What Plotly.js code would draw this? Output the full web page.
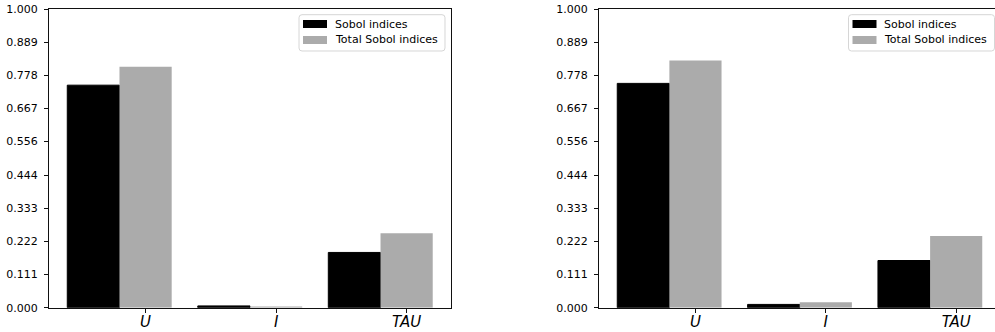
<!DOCTYPE html>
<html>
<head>
<meta charset="utf-8">
<script src="https://cdn.plot.ly/plotly-3.0.1.min.js"></script>
<style>
  html, body { margin: 0; padding: 0; overflow: hidden; background: #fff; }
  #chart { width: 1010px; height: 332px; }
</style>
</head>
<body>
<div id="chart"></div>
<script>
// Input parameters
const categories = ['U', 'I', 'TAU'];

// First-order and total Sobol indices, left panel
const sobolLeft = [0.745, 0.006, 0.185];
const totalLeft = [0.807, 0.004, 0.249];

// First-order and total Sobol indices, right panel
const sobolRight = [0.751, 0.011, 0.158];
const totalRight = [0.828, 0.018, 0.240];

const yTickLabels = ['0.000', '0.111', '0.222', '0.333', '0.444',
                     '0.556', '0.667', '0.778', '0.889', '1.000'];
const seriesNames = ['Sobol indices', 'Total Sobol indices'];

const W = 1010, H = 332;
const FONT = 'DejaVu Sans';
const BLACK = '#000000';
const GREY = '#ababab';

// Plot areas in pixels
const yTopPx = 9, yBotPx = 307.7;
const panels = [
  { left: 49, right: 451 },
  { left: 599, right: 1000.5 }
];
const yDomain = [(H - yBotPx) / H, (H - yTopPx) / H];

function xAxis(dom, anchor) {
  return {
    domain: [dom.left / W, dom.right / W],
    anchor: anchor,
    type: 'category',
    categoryarray: categories,
    categoryorder: 'array',
    range: [-0.74, 2.34],
    showgrid: false,
    zeroline: false,
    showline: true,
    mirror: true,
    linecolor: '#111',
    linewidth: 1,
    ticks: 'outside',
    ticklen: 4,
    tickwidth: 1,
    tickcolor: '#111',
    ticklabelstandoff: -4,
    tickfont: { family: FONT, size: 15, color: '#000', style: 'italic' },
    fixedrange: true
  };
}

function yAxis(anchor) {
  return {
    domain: yDomain,
    anchor: anchor,
    range: [0, 1],
    showgrid: false,
    zeroline: false,
    showline: true,
    mirror: true,
    linecolor: '#111',
    linewidth: 1,
    ticks: 'outside',
    ticklen: 4,
    tickwidth: 1,
    tickcolor: '#111',
    ticklabelstandoff: 4,
    tickvals: yTickLabels.map(Number),
    ticktext: yTickLabels,
    tickfont: { family: FONT, size: 11, color: '#000' },
    fixedrange: true
  };
}

function barPair(first, total, xa, ya) {
  return [
    {
      type: 'bar', name: seriesNames[0], x: categories, y: first,
      xaxis: xa, yaxis: ya, offset: -0.6, width: 0.4,
      marker: { color: BLACK, line: { color: BLACK, width: 1 } },
      showlegend: false, hoverinfo: 'skip'
    },
    {
      type: 'bar', name: seriesNames[1], x: categories, y: total,
      xaxis: xa, yaxis: ya, offset: -0.2, width: 0.4,
      marker: { color: GREY, line: { color: GREY, width: 0 } },
      showlegend: false, hoverinfo: 'skip'
    }
  ];
}

// Legend box with rounded corners in the upper-right corner of each panel
const shapes = [];
const annotations = [];
function addLegend(dom) {
  const boxRight = dom.right - 6, boxLeft = boxRight - 146;
  const boxTop = 14.7, boxBot = 51, r = 3;
  const px = v => (v / W).toFixed(5), py = v => (1 - v / H).toFixed(5);
  const path =
    `M${px(boxLeft + r)},${py(boxTop)} L${px(boxRight - r)},${py(boxTop)} ` +
    `Q${px(boxRight)},${py(boxTop)} ${px(boxRight)},${py(boxTop + r)} ` +
    `L${px(boxRight)},${py(boxBot - r)} ` +
    `Q${px(boxRight)},${py(boxBot)} ${px(boxRight - r)},${py(boxBot)} ` +
    `L${px(boxLeft + r)},${py(boxBot)} ` +
    `Q${px(boxLeft)},${py(boxBot)} ${px(boxLeft)},${py(boxBot - r)} ` +
    `L${px(boxLeft)},${py(boxTop + r)} ` +
    `Q${px(boxLeft)},${py(boxTop)} ${px(boxLeft + r)},${py(boxTop)} Z`;
  shapes.push({
    type: 'path', xref: 'paper', yref: 'paper', path: path,
    line: { color: '#d6d6d6', width: 1 }, fillcolor: 'rgba(255,255,255,0.85)'
  });
  const rows = [{ y: 24, c: BLACK }, { y: 40, c: GREY }];
  rows.forEach((row, i) => {
    shapes.push({
      type: 'rect', xref: 'paper', yref: 'paper',
      x0: px(boxLeft + 4), x1: px(boxLeft + 28),
      y0: py(row.y + 4), y1: py(row.y - 4),
      line: { width: 0 }, fillcolor: row.c
    });
    annotations.push({
      xref: 'paper', yref: 'paper', x: Number(px(boxLeft + 34)), y: Number(py(row.y)),
      xanchor: 'left', yanchor: 'middle', showarrow: false,
      text: seriesNames[i],
      font: { family: FONT, size: 11, color: '#000' }
    });
  });
}
panels.forEach(addLegend);

const data = [
  ...barPair(sobolLeft, totalLeft, 'x', 'y'),
  ...barPair(sobolRight, totalRight, 'x2', 'y2')
];

const layout = {
  width: W, height: H,
  margin: { l: 0, r: 0, t: 0, b: 0, pad: 0 },
  paper_bgcolor: '#fff', plot_bgcolor: '#fff',
  barmode: 'overlay',
  showlegend: false,
  font: { family: FONT, size: 11, color: '#000' },
  xaxis: xAxis(panels[0], 'y'),
  yaxis: yAxis('x'),
  xaxis2: xAxis(panels[1], 'y2'),
  yaxis2: yAxis('x2'),
  shapes: shapes,
  annotations: annotations
};

Plotly.newPlot('chart', data, layout, { staticPlot: true, displayModeBar: false });
</script>
</body>
</html>
